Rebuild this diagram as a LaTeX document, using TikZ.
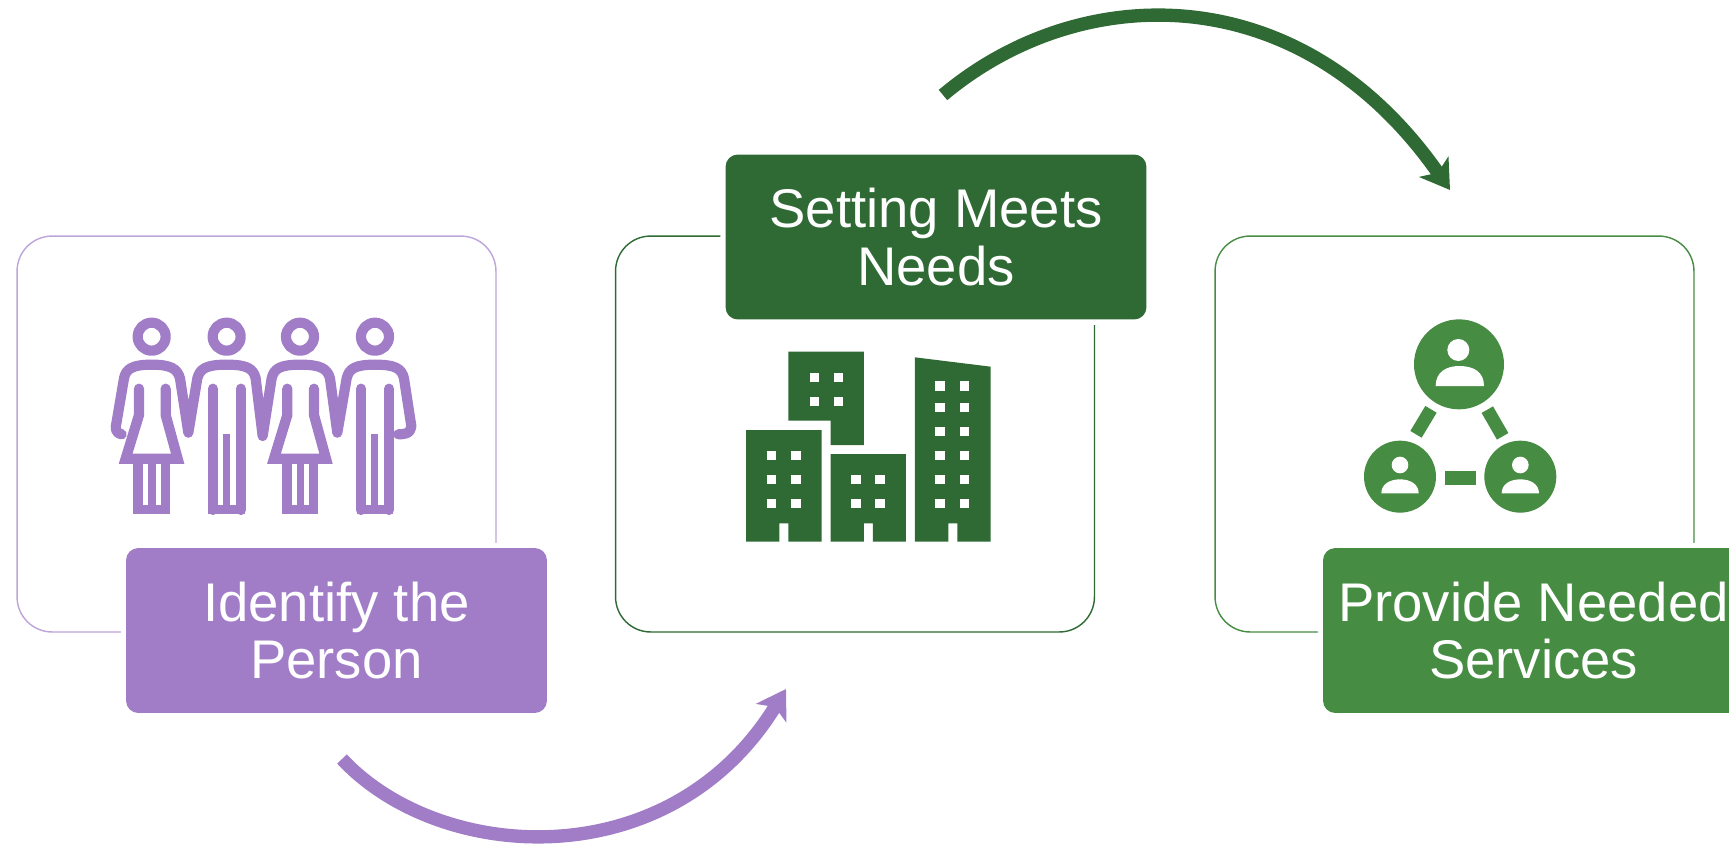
\documentclass[tikz,border=0pt]{standalone}
\usepackage{fontspec}
\setmainfont{Liberation Sans}
\usetikzlibrary{arrows.meta}

\definecolor{personcol}{HTML}{A17DC8}
\definecolor{settingcol}{HTML}{2F6A35}
\definecolor{servicecol}{HTML}{478C43}

\tikzset{
    panelbox/.style={draw=#1, line width=0.8pt, rounded corners=20pt, minimum width=9.58cm, minimum height=7.92cm, inner sep=0pt},
    labelbox/.style={fill=#1, preaction={draw=white, line width=6pt}, rounded corners=7pt, minimum width=8.42cm, minimum height=3.3cm, inner sep=0pt,
        text=white, align=center, font=\fontsize{31}{32.5}\selectfont},
    bendarrow/.style={draw=#1, line width=7.6pt, -{Stealth[length=16pt, width=20pt, inset=4pt]}},
    personline/.style={draw=personcol, line width=5.8pt, line cap=round, line join=round}
}

\begin{document}
\begin{tikzpicture}[x=0.02cm, y=-0.02cm]
    \path[clip, use as bounding box] (0,0) rectangle (1729,843);
    \fill[white] (0,0) rectangle (1729,843);

    % Panels
    \node[panelbox=personcol!70] (idpanel) at (256.5,434) {};
    \node[panelbox=settingcol] (meetpanel) at (855,434) {};
    \node[panelbox=servicecol] (servicepanel) at (1454.5,434) {};

    % Labels
    \node[labelbox=personcol] (idlabel) at (336.5,630.5) {Identify the\\Person};
    \node[labelbox=settingcol] (meetlabel) at (936,237) {Setting Meets\\Needs};
    \node[labelbox=servicecol] (servicelabel) at (1533.5,630.5) {Provide Needed\\Services};

    % Arrows
    \coordinate (lowstart) at (342,759);
    \coordinate (lowend) at (786,689);
    \coordinate (highstart) at (943,95);
    \coordinate (highend) at (1450,190);
    \draw[bendarrow=personcol] (lowstart) .. controls (440,864) and (670,878) .. (lowend);
    \draw[bendarrow=settingcol] (highstart) .. controls (1080,-20) and (1300,-25) .. (highend);

    % People
    \begin{scope}[shift={(90,300)}, x=0.02cm/3, y=-0.02cm/3]
        \foreach \px in {185,410,630,855}
            \draw[personline] (\px,110) circle (42);
        \draw[personline] (95,403) .. controls (75,398) and (75,385) .. (80,365) -- (102,235)
            .. controls (108,205) and (130,194) .. (185,194) .. controls (240,194) and (262,205) .. (270,235) -- (295,398)
            -- (322,235) .. controls (330,205) and (350,194) .. (410,194) .. controls (470,194) and (490,205) .. (497,235) -- (518,408)
            -- (545,235) .. controls (552,205) and (572,194) .. (630,194) .. controls (690,194) and (712,205) .. (720,235) -- (742,398)
            -- (770,235) .. controls (777,205) and (797,194) .. (855,194) .. controls (915,194) and (935,205) .. (942,235) -- (962,365)
            .. controls (968,390) and (960,403) .. (925,403);
        \foreach \px in {185,630} {
            \draw[personline, line join=miter] (\px-38,266) -- (\px-38,345) -- (\px-78,476) -- (\px+78,476) -- (\px+42,345) -- (\px+42,266);
            \fill[personcol] (\px-55,478) rectangle (\px+55,642);
            \fill[white] (\px-25,492) rectangle (\px-10,614);
            \fill[white] (\px+12,492) rectangle (\px+27,614);
        }
        \foreach \px in {410,855} {
            \draw[personline] (\px-42,266) -- (\px-42,630);
            \draw[personline] (\px+42,266) -- (\px+42,630);
            \fill[personcol] (\px-55,614) rectangle (\px+55,642);
            \fill[personcol] (\px-12,402) rectangle (\px+10,620);
        }
    \end{scope}

    % Buildings
    \begin{scope}[shift={(720,330)}, x=0.02cm/3, y=-0.02cm/3]
        \fill[settingcol] (78,300) -- (305,300) -- (305,635) -- (205,635) -- (205,580) -- (178,580) -- (178,635) -- (78,635) -- cycle;
        \fill[settingcol] (205,65) -- (432,65) -- (432,345) -- (332,345) -- (332,272) -- (205,272) -- cycle;
        \fill[settingcol] (332,372) -- (558,372) -- (558,635) -- (459,635) -- (459,580) -- (432,580) -- (432,635) -- (332,635) -- cycle;
        \fill[settingcol] (585,82) -- (812,110) -- (812,635) -- (712,635) -- (712,580) -- (685,580) -- (685,635) -- (585,635) -- cycle;
        \foreach \wx/\wy in {155/376, 228/376, 155/448, 228/448, 155/520, 228/520,
            283/142, 355/142, 283/214, 355/214,
            408/448, 480/448, 408/520, 480/520,
            660/168, 733/168, 660/232, 733/232, 660/304, 733/304,
            660/376, 733/376, 660/448, 733/448, 660/520, 733/520}
            \fill[white] (\wx-14,\wy-14) rectangle (\wx+14,\wy+14);
    \end{scope}

    % Network
    \begin{scope}[shift={(1340,300)}, x=0.02cm/3, y=-0.02cm/3]
        \fill[servicecol] (357,193) circle (135);
        \fill[white] (355,150) circle (33);
        \fill[white] (287,258) .. controls (287,215) and (320,198) .. (358,198) .. controls (400,198) and (432,215) .. (432,258) -- cycle;
        \foreach \cx in {180,541} {
            \fill[servicecol] (\cx,530) circle (108);
            \fill[white] (\cx,495) circle (25);
            \fill[white] (\cx-56,580) .. controls (\cx-56,552) and (\cx-30,538) .. (\cx,538) .. controls (\cx+30,538) and (\cx+56,552) .. (\cx+56,580) -- cycle;
        }
        \draw[servicecol, line width=7.5pt] (273,328) -- (228,403);
        \draw[servicecol, line width=7.5pt] (442,329) -- (488,409);
        \draw[servicecol, line width=8pt] (315,533) -- (408,533);
    \end{scope}
\end{tikzpicture}
\end{document}
